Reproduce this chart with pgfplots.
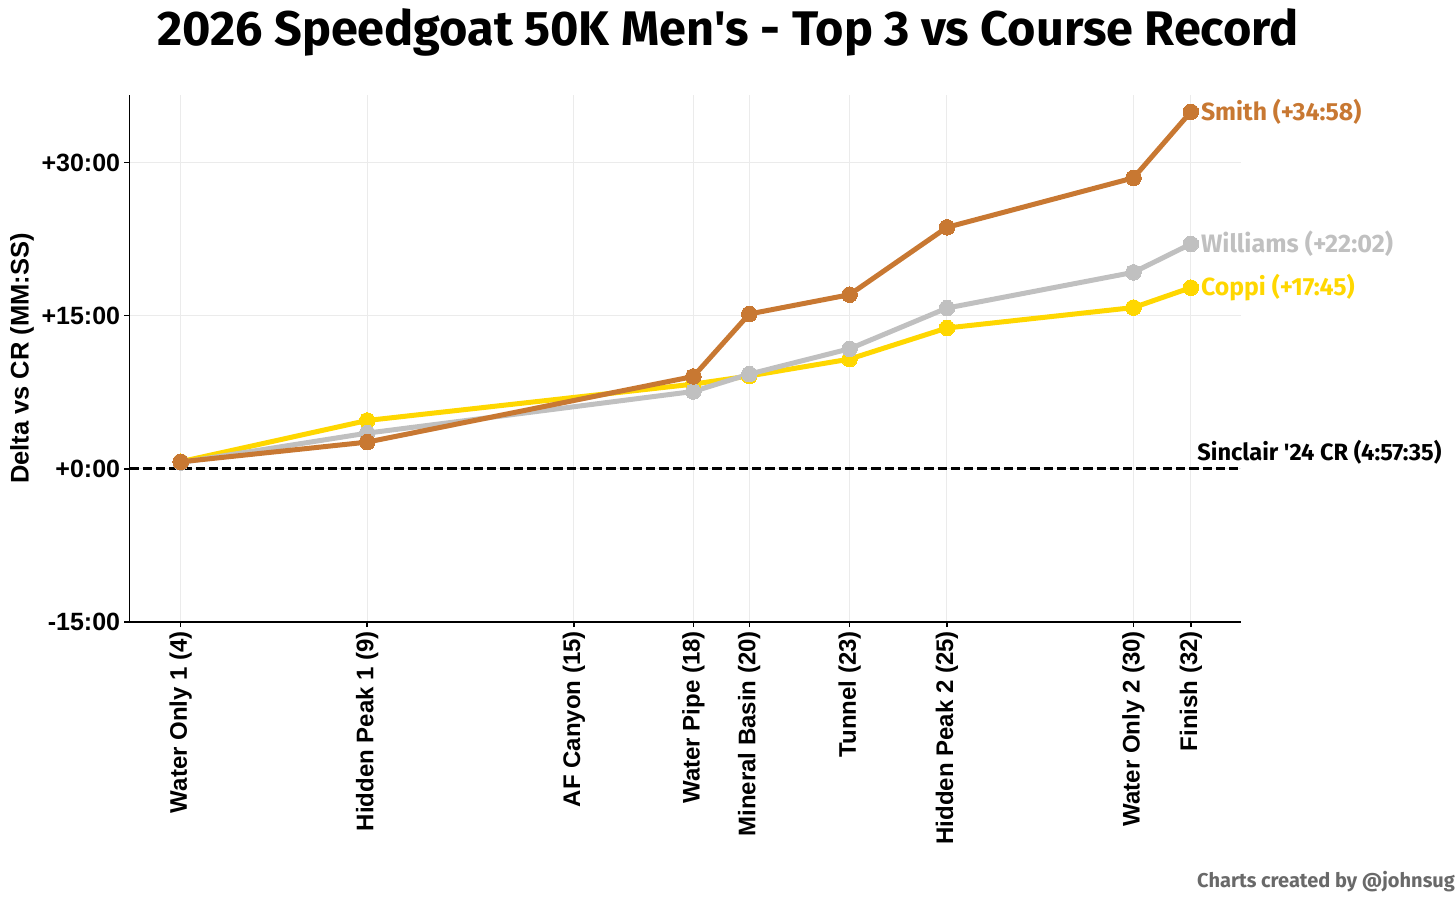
\documentclass[border=0pt]{standalone}
\usepackage{fontspec}
\setmainfont{Liberation Sans}
\newfontfamily\plex{Fira Sans}
\usepackage{pgfplots}
\pgfplotsset{compat=1.18}
\definecolor{smithc}{RGB}{200,120,50}
\definecolor{willc}{RGB}{192,192,192}
\definecolor{coppic}{RGB}{255,215,0}
\definecolor{gridc}{RGB}{235,235,235}
\definecolor{credc}{RGB}{105,105,105}

\begin{document}
\begin{tikzpicture}
\begin{axis}[
  at={(0pt,0pt)}, anchor=south west,
  scale only axis, width=1111.7pt, height=527pt,
  xmin=2.575, xmax=33.39, ymin=-15, ymax=36.62,
  clip=false,
  axis lines*=left, axis line style={line width=1.5pt, black},
  xtick={4,9.17,14.90,18.21,19.76,22.54,25.24,30.41,32},
  xticklabels={Water Only 1 (4),Hidden Peak 1 (9),AF Canyon (15),Water Pipe (18),Mineral Basin (20),Tunnel (23),Hidden Peak 2 (25),Water Only 2 (30),Finish (32)},
  ytick={-15,0,15,30},
  yticklabels={-15:00,+0:00,+15:00,+30:00},
  tick align=outside, major tick length=5pt,
  tick style={black, line width=1.5pt},
  grid=major, major grid style={gridc, line width=1pt},
  xticklabel style={rotate=90, anchor=east, inner sep=0pt, font=\fontsize{24}{25}\selectfont\bfseries},
  yticklabel style={anchor=east, inner sep=0pt, font=\fontsize{25}{26}\selectfont\bfseries},
  xticklabel shift=4pt, yticklabel shift=4pt,
  ylabel={Delta vs CR (MM:SS)},
  ylabel style={at={(axis description cs:-0.0965,0.5)}, anchor=center, inner sep=0pt, font=\fontsize{25.5}{27}\selectfont\bfseries},
  line join=round,
]
\addplot[black, line width=3pt, dash pattern=on 9.25pt off 4pt, forget plot] coordinates {(2.575,0) (33.39,0)};

\addplot[coppic, line width=5pt, mark=*, mark size=7.8pt, mark options={solid, fill=coppic, draw=coppic, line width=0pt}] coordinates {
(4,0.70) (9.17,4.74) (18.21,8.3) (19.76,9.1) (22.54,10.75) (25.24,13.8) (30.41,15.8) (32,17.75)};

\addplot[willc, line width=5pt, mark=*, mark size=7.8pt, mark options={solid, fill=willc, draw=willc, line width=0pt}] coordinates {
(4,0.62) (9.17,3.5) (18.21,7.58) (19.76,9.28) (22.54,11.76) (25.24,15.75) (30.41,19.25) (32,22.03)};

\addplot[smithc, line width=5pt, mark=*, mark size=7.8pt, mark options={solid, fill=smithc, draw=smithc, line width=0pt}] coordinates {
(4,0.69) (9.17,2.62) (18.21,9.05) (19.76,15.17) (22.54,17.06) (25.24,23.66) (30.41,28.5) (32,34.97)};

\node[anchor=west, inner sep=0pt, xshift=10pt, text=smithc, font=\plex\bfseries\fontsize{24.8}{26}\selectfont] at (axis cs:32,34.97) {Smith (+34:58)};
\node[anchor=west, inner sep=0pt, xshift=10pt, text=willc, font=\plex\bfseries\fontsize{25.2}{26}\selectfont] at (axis cs:32,22.03) {Williams (+22:02)};
\node[anchor=west, inner sep=0pt, xshift=10pt, text=coppic, font=\plex\bfseries\fontsize{24.8}{26}\selectfont] at (axis cs:32,17.75) {Coppi (+17:45)};
\node[anchor=base west, inner sep=0pt, xshift=6.3pt, yshift=8.3pt, text=black, font=\plex\bfseries\fontsize{23.6}{25}\selectfont] at (axis cs:32,0) {Sinclair \textquotesingle24 CR (4:57:35)};
\end{axis}
\node[anchor=base, inner sep=0pt, font=\plex\bfseries\fontsize{48.6}{52}\selectfont] at (598.7pt,576pt) {2026 Speedgoat 50K Men\textquotesingle s - Top 3 vs Course Record};
\node[anchor=base west, inner sep=0pt, text=credc, font=\plex\bfseries\fontsize{20}{22}\selectfont] at (1067.7pt,-265pt) {Charts created by @johnsug};
\pgfresetboundingbox
\useasboundingbox (-129.3pt,-278pt) rectangle (1326.7pt,622pt);
\end{tikzpicture}
\end{document}
